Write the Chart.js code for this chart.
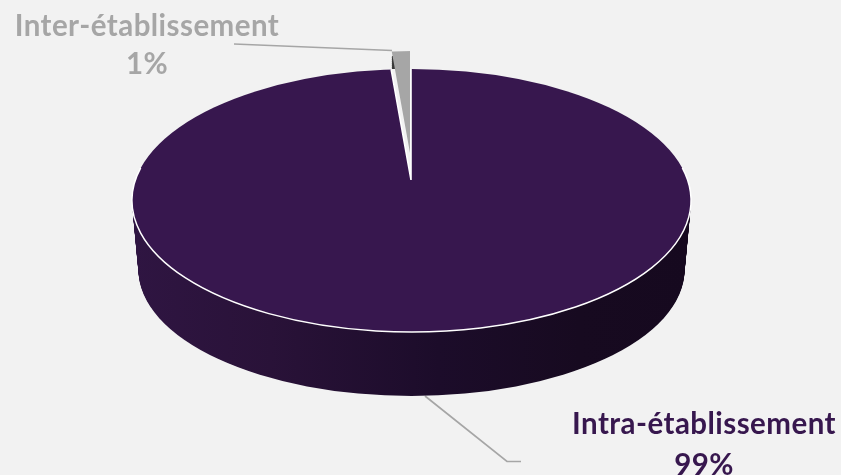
<!DOCTYPE html>
<html lang="fr"><head><meta charset="utf-8">
<style>html,body{margin:0;padding:0;background:#f2f2f2;overflow:hidden}canvas{display:block}</style>
<script src="https://cdn.jsdelivr.net/npm/chart.js@4"></script>
</head><body>
<canvas id="c" width="841" height="475"></canvas>
<script>
const categories = ['Intra-établissement', 'Inter-établissement'];
const values = [99, 1];
const percentLabels = ['99%', '1%'];
const sliceColors = ['#37174e', '#a6a6a6'];
const labelColors = ['#37174e', '#a6a6a6'];

const SX = 2.0, SY = 0.7;
const TOP = {cx: 411.5, cy: 200.5, rx: 279.5, ry: 131.5, ax: 411, ay: 180};
const BOT = {cx: 411.5, cy: 270, rx: 273, ry: 126, ax: 411, ay: 250};
const GRAY = {cx: 411.5, cy: 182.5, rx: 279.5, ry: 131.5, ax: 410, ay: 153};

function drawArc(ctx, arc, geo, fill, noBorder) {
  ctx.save();
  ctx.beginPath();
  ctx.ellipse(geo.cx, geo.cy, geo.rx, geo.ry, 0, 0, Math.PI * 2);
  ctx.clip();
  ctx.translate(geo.ax, geo.ay);
  ctx.scale(SX, SY);
  ctx.translate(-arc.x, -arc.y);
  const saved = arc.options;
  const o = Object.assign({}, saved);
  if (fill) o.backgroundColor = fill(arc, geo);
  if (noBorder) o.borderWidth = 0;
  arc.options = o;
  arc.draw(ctx);
  arc.options = saved;
  ctx.restore();
}

const pie3d = {
  id: 'pie3d',
  beforeDatasetsDraw(chart) {
    const ctx = chart.ctx;
    const [main, small] = chart.getDatasetMeta(0).data;

    // leader lines
    ctx.save();
    ctx.strokeStyle = '#a6a6a6';
    ctx.lineWidth = 1.7;
    ctx.beginPath(); ctx.moveTo(234, 44); ctx.lineTo(392, 50.5); ctx.stroke();
    ctx.beginPath(); ctx.moveTo(425, 396); ctx.lineTo(507, 461.5); ctx.lineTo(521, 461.5); ctx.stroke();
    ctx.restore();

    // small slice: wall (only its top end shows) then face
    ctx.save();
    ctx.beginPath(); ctx.rect(380, 56, 30, 13); ctx.clip();
    for (let d = 16; d > 0; d -= 2) {
      drawArc(ctx, small, {...GRAY, cy: GRAY.cy + d, ay: GRAY.ay + d}, () => '#3a3a3a', true);
    }
    ctx.restore();
    drawArc(ctx, small, GRAY, null, true);

    // main slice: wall with horizontal shading
    const wallFill = (arc, geo) => {
      const toLocal = X => arc.x + (X - geo.ax) / SX;
      const g = ctx.createLinearGradient(toLocal(132), 0, toLocal(691), 0);
      g.addColorStop(0, '#2f1542');
      g.addColorStop(0.25, '#291238');
      g.addColorStop(0.55, '#1c0c2a');
      g.addColorStop(0.8, '#170a20');
      g.addColorStop(1, '#16091f');
      return g;
    };
    const n = 70;
    for (let i = n; i > 0; i--) {
      const t = i / n, mix = k => TOP[k] + (BOT[k] - TOP[k]) * t;
      const geo = {cx: mix('cx'), cy: mix('cy'), rx: mix('rx'), ry: mix('ry'), ax: mix('ax'), ay: mix('ay')};
      drawArc(ctx, main, geo, wallFill, true);
    }
    // main slice: face
    drawArc(ctx, main, TOP);

    // front rim
    ctx.save();
    ctx.strokeStyle = '#ffffff';
    ctx.lineWidth = 1.5;
    ctx.beginPath();
    ctx.ellipse(TOP.cx, TOP.cy, TOP.rx, TOP.ry, 0, -0.25, Math.PI + 0.25);
    ctx.stroke();
    ctx.restore();
    return false;
  },
  afterDraw(chart) {
    const ctx = chart.ctx;
    const place = [{x: 704, y1: 424, y2: 465}, {x: 147, y1: 26, y2: 64}];
    ctx.save();
    ctx.font = 'bold 29.5px Lato';
    ctx.letterSpacing = '0.45px';
    ctx.textAlign = 'center';
    ctx.textBaseline = 'middle';
    categories.forEach((name, i) => {
      ctx.fillStyle = labelColors[i];
      ctx.fillText(name, place[i].x, place[i].y1);
      ctx.fillText(percentLabels[i], place[i].x, place[i].y2);
    });
    ctx.restore();
  }
};

new Chart(document.getElementById('c'), {
  type: 'pie',
  data: {
    labels: categories,
    datasets: [{data: values, backgroundColor: sliceColors, borderColor: '#ffffff', borderWidth: 0.8}]
  },
  options: {
    responsive: false,
    animation: false,
    rotation: 0,
    layout: {padding: 0},
    plugins: {legend: {display: false}, tooltip: {enabled: false}}
  },
  plugins: [pie3d]
});
</script>
</body></html>
